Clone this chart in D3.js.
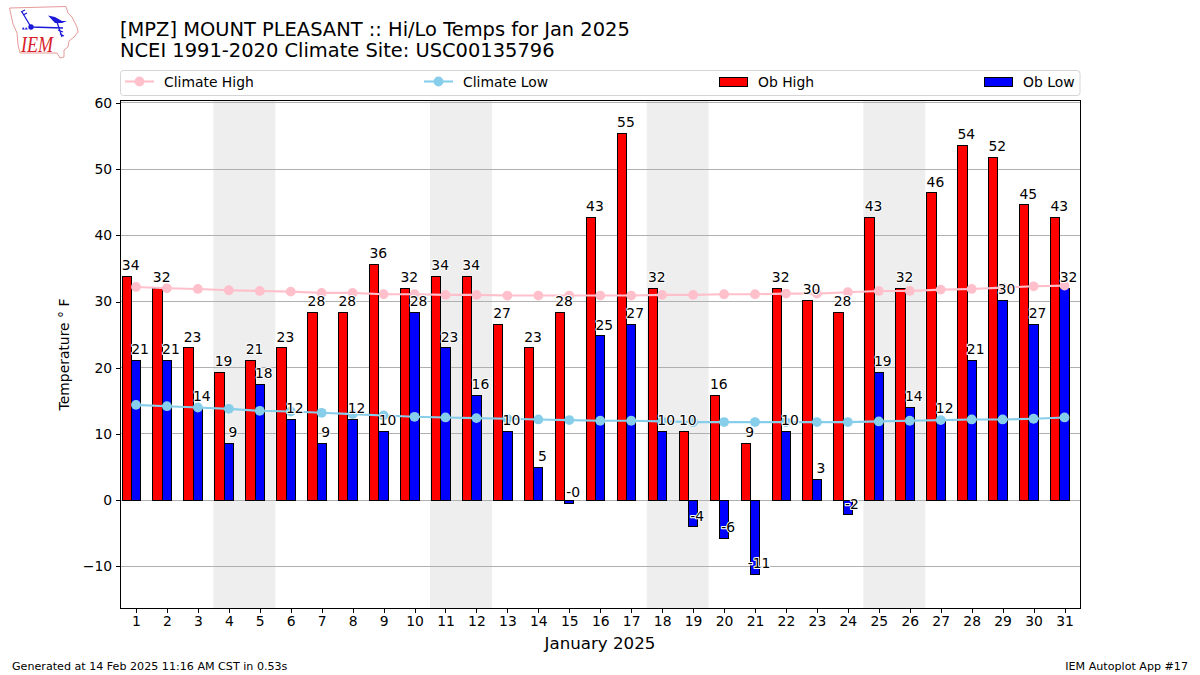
<!DOCTYPE html>
<html><head><meta charset="utf-8">
<script src="https://cdn.jsdelivr.net/npm/d3@7"></script>
<style>html,body{margin:0;padding:0;background:#fff}svg{display:block}text{font-family:"DejaVu Sans",sans-serif;fill:#000}</style>
</head><body><svg id="c" width="1200" height="675"></svg>
<script>
const days=d3.range(1,32);
const obHigh=[33.8,32,23,19.3,21.1,23,28.4,28.4,35.6,32,33.8,33.8,26.6,23,28.4,42.7,55.4,32,10.4,15.8,8.6,32,30.2,28.4,42.7,32,46.4,53.6,51.8,44.6,42.7];
const obLow=[21.1,21.1,14,8.6,17.5,12.2,8.6,12.2,10.4,28.4,23,15.8,10.4,5,-0.45,24.8,26.6,10.4,-4,-5.8,-11.2,10.4,3.2,-2.2,19.3,14,12.2,21.1,30.2,26.6,32];
const climHigh=[32.2,32,31.9,31.7,31.6,31.5,31.3,31.3,31.1,31.1,31,31,30.9,30.9,30.9,30.9,30.9,31,31,31.1,31.1,31.2,31.2,31.4,31.6,31.6,31.8,31.9,32.1,32.3,32.4];
const climLow=[14.4,14.2,14,13.8,13.5,13.4,13.2,13,12.8,12.6,12.5,12.4,12.3,12.2,12.1,12,12,11.9,11.8,11.8,11.8,11.8,11.8,11.8,11.9,12,12.1,12.2,12.2,12.3,12.5];
const weekends=[[3.5,5.5],[10.5,12.5],[17.5,19.5],[24.5,26.5]];
const yTicks=[-10,0,10,20,30,40,50,60];
const titleLines=["[MPZ] MOUNT PLEASANT :: Hi/Lo Temps for Jan 2025","NCEI 1991-2020 Climate Site: USC00135796"];
const legendItems=["Climate High","Climate Low","Ob High","Ob Low"];

const svg=d3.select("#c");
const L=120.5,R=1080,T=100.5,B=608;
const x=d3.scaleLinear().domain([0.5,31.5]).range([L,R]);
const y=d3.scaleLinear().domain([-16.27,60.35]).range([B,T]);
const bw=x(0.3)-x(0);

// weekend shading
svg.append("g").selectAll("rect").data(weekends).join("rect")
 .attr("x",d=>x(d[0])).attr("width",d=>x(d[1])-x(d[0])).attr("y",T).attr("height",B-T).attr("fill","#eeeeee");
// grid
svg.append("g").selectAll("line").data(yTicks).join("line")
 .attr("x1",L).attr("x2",R).attr("y1",d=>y(d)).attr("y2",d=>y(d)).attr("stroke","#b0b0b0").attr("stroke-width",1).attr("shape-rendering","crispEdges");
// bars
const bars=(vals,off,col)=>svg.append("g").selectAll("rect").data(vals).join("rect")
 .attr("x",(d,i)=>x(days[i]+off)).attr("width",bw)
 .attr("y",d=>y(Math.max(d,0))).attr("height",d=>Math.abs(y(d)-y(0)))
 .attr("fill",col).attr("stroke","#000").attr("stroke-width",1).attr("shape-rendering","crispEdges");
bars(obHigh,-0.45,"#ff0000");
bars(obLow,-0.15,"#0000ff");
// climate lines
const line=d3.line().x((d,i)=>x(days[i])).y(d=>y(d));
const climate=(vals,col)=>{
 svg.append("path").datum(vals).attr("d",line).attr("fill","none").attr("stroke",col).attr("stroke-width",2.1);
 svg.append("g").selectAll("circle").data(vals).join("circle")
  .attr("cx",(d,i)=>x(days[i])).attr("cy",d=>y(d)).attr("r",4.9).attr("fill",col);
};
climate(climHigh,"#ffc0cb");
climate(climLow,"#87ceeb");
// data labels
const labels=(vals,off)=>svg.append("g").selectAll("text").data(vals).join("text")
 .attr("x",(d,i)=>x(days[i]+off)+4).attr("y",d=>y(d)-6.2)
 .attr("text-anchor","middle").attr("font-size","13.9px")
 .attr("paint-order","stroke").attr("stroke","#fff").attr("stroke-width",2).attr("stroke-linejoin","round")
 .text(d=>d.toFixed(0));
labels(obHigh,-0.3);
labels(obLow,0);
// frame
svg.append("rect").attr("x",L).attr("y",T).attr("width",R-L).attr("height",B-T).attr("fill","none").attr("stroke","#000").attr("stroke-width",1).attr("shape-rendering","crispEdges");
// axes
const xAxis=d3.axisBottom(x).tickValues(days).tickSize(4.9).tickPadding(3.5).tickFormat(d3.format("d"));
const yAxis=d3.axisLeft(y).tickValues(yTicks).tickSize(4.9).tickPadding(3.5).tickFormat(d=>d<0?"\u2212"+Math.abs(d):d);
[[xAxis,`translate(0,${B})`],[yAxis,`translate(${L},0)`]].forEach(([a,t])=>{
 const g=svg.append("g").attr("transform",t).call(a);
 g.select(".domain").remove();
 g.selectAll("line").attr("stroke","#000").attr("shape-rendering","crispEdges");
 g.selectAll("text").attr("font-size","13.9px").style("font-family",'"DejaVu Sans"').attr("fill","#000");
});
// axis titles
svg.append("text").attr("x",600).attr("y",649).attr("text-anchor","middle").attr("font-size","16.67px").text("January 2025");
svg.append("text").attr("transform","translate(68.5,354.5) rotate(-90)").attr("text-anchor","middle").attr("font-size","13.9px").text("Temperature \u00b0 F");
// title
svg.append("g").selectAll("text").data(titleLines).join("text")
 .attr("x",120).attr("y",(d,i)=>35.5+i*21.7).attr("font-size","19.44px").text(d=>d);
// legend
svg.append("rect").attr("x",120.5).attr("y",70.5).attr("width",959.5).attr("height",25).attr("rx",3).attr("fill","#fff").attr("stroke","#d5d5d5");
const legX=[125,424,719,984],legCols=["#ffc0cb","#87ceeb","#ff0000","#0000ff"];
const lg=svg.append("g").selectAll("g").data(legendItems).join("g").attr("transform",(d,i)=>`translate(${legX[i]},0)`);
lg.append("text").attr("x",39).attr("y",86.5).attr("font-size","13.9px").text(d=>d);
lg.filter((d,i)=>i<2).each(function(d){const c=legCols[legendItems.indexOf(d)],s=d3.select(this);
 s.append("line").attr("x1",0).attr("x2",29).attr("y1",81.5).attr("y2",81.5).attr("stroke",c).attr("stroke-width",2.1);
 s.append("circle").attr("cx",14.5).attr("cy",81.5).attr("r",4.9).attr("fill",c);});
lg.filter((d,i)=>i>=2).append("rect").attr("x",0.5).attr("y",77.5).attr("width",28).attr("height",9).attr("fill",d=>legCols[legendItems.indexOf(d)]).attr("stroke","#000").attr("shape-rendering","crispEdges");
// footer
svg.append("text").attr("x",12).attr("y",670).attr("font-size","11.12px").text("Generated at 14 Feb 2025 11:16 AM CST in 0.53s");
svg.append("text").attr("x",1188).attr("y",670).attr("text-anchor","end").attr("font-size","11.12px").text("IEM Autoplot App #17");
// logo
const logo=svg.append("g");
logo.append("path").attr("d","M9.5 8 L66 6.5 L68 13 L72 17 L77 27 L78 32 L74 37 L69 41 L68 47 L64 50 L64 57 L60 58 L57 53 L20 53 L18 45 L17 33 L13 24 L11 15 Z").attr("fill","#fff").attr("stroke","#e79a9a").attr("stroke-width",1);
const blue="#1a1ad8";
logo.append("path").attr("d","M31 27 L63 28 M57 22 L62 37 M22 12 L31 27 M21 12 L25 10 M23 15 L27 13 M58 30 L63 32 M60 34 L64 36").attr("fill","none").attr("stroke",blue).attr("stroke-width",1.3);
logo.append("path").attr("d","M48 15.5 L55 17 L62 21 L67 21 L62 23 L55 23 Z M23 27 L25 29.5 L22 29.5 Z M26 27 L28 29.5 L25 29.5 Z").attr("fill",blue);
logo.append("circle").attr("cx",31).attr("cy",27).attr("r",2.7).attr("fill",blue);
logo.append("text").attr("transform","translate(21,51.5) scale(0.95,1.2)").attr("font-size","19px").attr("font-style","italic").style("font-family",'"Liberation Serif"').style("fill","#d8202a").text("IEM");
</script></body></html>
